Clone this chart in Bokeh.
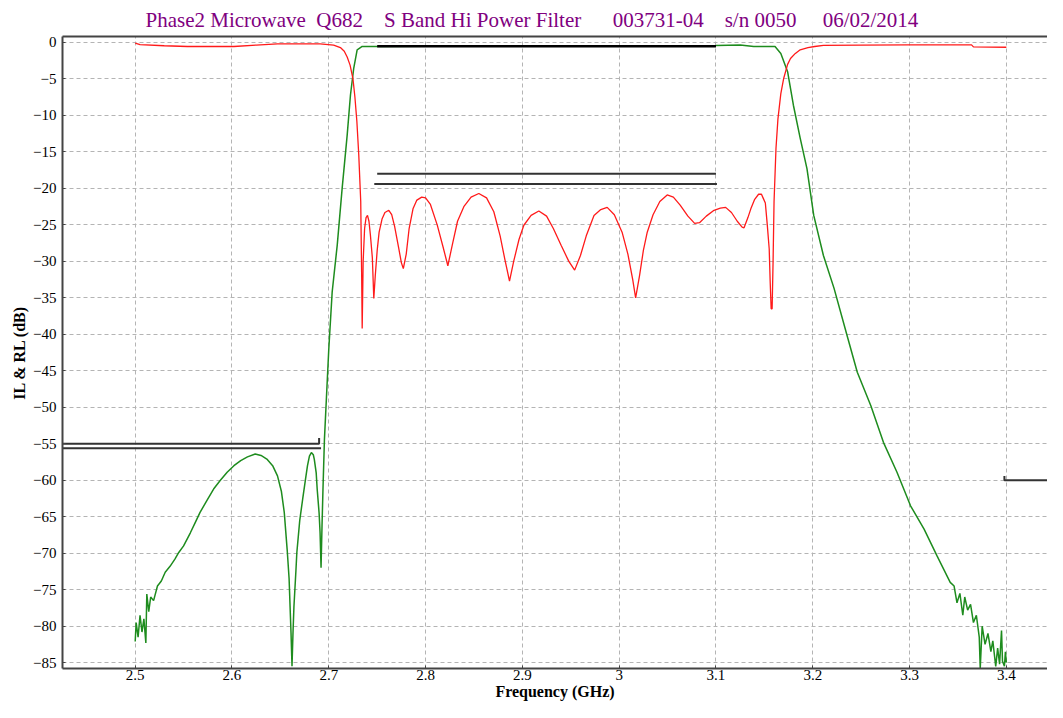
from bokeh.plotting import figure
from bokeh.models import Range1d, FixedTicker, LinearAxis, Title
from bokeh.embed import file_html
from bokeh.resources import INLINE

# ---------------- data ----------------
NB = "\u00a0"
title_parts = ["Phase2 Microwave", "Q682", "S Band Hi Power Filter", "003731-04", "s/n 0050", "06/02/2014"]
title_gaps = [2, 4, 6, 4, 5]

x_ticks = [2.5, 2.6, 2.7, 2.8, 2.9, 3.0, 3.1, 3.2, 3.3, 3.4]
x_tick_labels = ["2.5", "2.6", "2.7", "2.8", "2.9", "3", "3.1", "3.2", "3.3", "3.4"]
y_ticks = [0, -5, -10, -15, -20, -25, -30, -35, -40, -45, -50, -55, -60, -65, -70, -75, -80, -85]

# Return loss (red)
rl_f = [2.500, 2.505, 2.530, 2.554, 2.602, 2.625, 2.647, 2.691, 2.705, 2.712, 2.716, 2.719,
        2.722, 2.725, 2.727, 2.729, 2.731, 2.733, 2.734, 2.7345, 2.7355, 2.737, 2.7385, 2.740,
        2.7415, 2.743, 2.745, 2.7465, 2.748, 2.750, 2.752, 2.755, 2.758, 2.762, 2.765, 2.768,
        2.772, 2.775, 2.777, 2.780, 2.783, 2.787, 2.791, 2.796, 2.800, 2.805, 2.812, 2.818,
        2.823, 2.828, 2.833, 2.8395, 2.847, 2.855, 2.863, 2.8705, 2.877, 2.882, 2.8867, 2.891,
        2.8965, 2.9015, 2.909, 2.917, 2.925, 2.932, 2.940, 2.948, 2.954, 2.960, 2.966, 2.974,
        2.981, 2.9876, 2.995, 3.003, 3.009, 3.014, 3.017, 3.021, 3.025, 3.029, 3.035, 3.042,
        3.0496, 3.056, 3.063, 3.071, 3.078, 3.083, 3.090, 3.098, 3.1045, 3.110, 3.116, 3.122,
        3.127, 3.129, 3.133, 3.136, 3.140, 3.144, 3.147, 3.149, 3.151, 3.153, 3.155, 3.156,
        3.157, 3.158, 3.159, 3.160, 3.162, 3.164, 3.167, 3.170, 3.174, 3.177, 3.182, 3.187,
        3.195, 3.202, 3.211, 3.250, 3.298, 3.364, 3.366, 3.400]
rl_db = [-0.1, -0.3, -0.45, -0.55, -0.55, -0.35, -0.2, -0.2, -0.35, -0.7, -1.2, -2.0,
         -3.1, -5.0, -7.5, -10.8, -15.5, -21.8, -32.4, -39.2, -30.0, -25.5, -24.0, -23.7,
         -24.5, -26.4, -29.5, -35.1, -32.0, -28.5, -26.0, -24.2, -23.3, -23.0, -23.6, -25.2,
         -28.0, -30.2, -31.0, -29.0, -25.5, -22.8, -21.6, -21.2, -21.3, -22.2, -25.0, -28.0,
         -30.6, -27.5, -24.5, -22.5, -21.2, -20.7, -21.3, -23.2, -26.5, -29.8, -32.7, -30.0,
         -27.0, -25.05, -23.7, -23.1, -23.8, -25.5, -27.8, -30.0, -31.2, -29.2, -26.5, -23.7,
         -22.9, -22.6, -23.6, -26.0, -29.0, -32.5, -35.0, -32.0, -28.5, -26.0, -23.6, -21.8,
         -20.9, -21.2, -22.3, -23.8, -24.8, -24.7, -23.8, -23.0, -22.7, -22.6, -23.3, -24.5,
         -25.3, -25.4, -24.0, -22.8, -21.5, -20.8, -20.8, -21.4, -22.0, -25.0, -28.3, -32.8,
         -36.5, -36.5, -30.0, -21.8, -14.5, -10.5, -7.0, -4.9, -3.0, -2.2, -1.5, -1.0,
         -0.7, -0.55, -0.4, -0.35, -0.33, -0.33, -0.6, -0.65]

# Insertion loss (green)
il_f = [2.500, 2.501, 2.503, 2.505, 2.507, 2.509, 2.511, 2.512, 2.514, 2.516, 2.519, 2.523,
        2.527, 2.531, 2.536, 2.541, 2.545, 2.550, 2.557, 2.562, 2.567, 2.574, 2.581, 2.588,
        2.595, 2.602, 2.609, 2.616, 2.624, 2.630, 2.636, 2.642, 2.647, 2.651, 2.654, 2.657,
        2.659, 2.660, 2.661, 2.662, 2.663, 2.664, 2.666, 2.667, 2.670, 2.673, 2.676, 2.678,
        2.680, 2.682, 2.684, 2.685, 2.687, 2.688, 2.690, 2.691, 2.692, 2.693, 2.694, 2.6955,
        2.698, 2.700, 2.7035, 2.7087, 2.7138, 2.719, 2.7224, 2.7258, 2.7293, 2.7345, 2.753, 2.800,
        2.900, 3.000, 3.100, 3.125, 3.139, 3.161, 3.167, 3.174, 3.180, 3.187, 3.194, 3.201,
        3.211, 3.222, 3.2355, 3.246, 3.260, 3.273, 3.287, 3.301, 3.315, 3.3285, 3.342, 3.346,
        3.349, 3.352, 3.355, 3.357, 3.360, 3.363, 3.366, 3.369, 3.372, 3.373, 3.375, 3.378,
        3.381, 3.384, 3.386, 3.389, 3.391, 3.393, 3.395, 3.396, 3.398, 3.399, 3.400]
il_db = [-82.1, -79.5, -81.5, -78.5, -80.8, -79.0, -82.3, -75.6, -78.0, -76.0, -76.5, -74.5,
         -73.8, -72.6, -71.8, -70.8, -69.9, -69.0, -67.2, -65.8, -64.4, -62.8, -61.2, -60.0,
         -58.9, -58.0, -57.3, -56.8, -56.4, -56.6, -57.1, -58.0, -59.4, -61.5, -64.4, -69.5,
         -73.5, -77.3, -81.0, -85.5, -81.0, -77.3, -72.5, -69.9, -65.5, -62.6, -59.8, -58.0,
         -56.7, -56.2, -56.5, -57.1, -59.0, -61.2, -64.5, -67.2, -72.0, -66.3, -61.2, -54.4,
         -47.5, -42.0, -34.2, -27.8, -20.0, -12.7, -7.2, -3.5, -1.0, -0.55, -0.55, -0.5,
         -0.45, -0.45, -0.4, -0.33, -0.55, -0.55, -1.5, -4.0, -8.6, -13.1, -17.3, -23.7,
         -29.2, -33.7, -40.2, -45.2, -49.8, -54.8, -58.9, -63.5, -66.7, -70.4, -74.0, -74.5,
         -76.8, -75.5, -78.5, -76.0, -77.8, -77.0, -79.5, -78.5, -81.5, -85.8, -80.0, -82.5,
         -81.0, -83.5, -82.0, -85.5, -83.0, -85.2, -80.6, -84.8, -85.5, -83.5, -85.0]

# Specification limit lines (black)
spec_il_f = [2.75, 3.10]
spec_il_db = [-0.5, -0.5]
spec_rl1_f = [2.75, 3.10]
spec_rl1_db = [-18.0, -18.0]
spec_rl2_f = [2.747, 3.101]
spec_rl2_db = [-19.4, -19.4]
spec_lo1_f = [2.40, 2.690, 2.690]
spec_lo1_db = [-55.0, -55.0, -54.2]
spec_lo2_f = [2.40, 2.692]
spec_lo2_db = [-55.6, -55.6]
spec_hi_f = [3.398, 3.398, 3.50]
spec_hi_db = [-59.4, -60.0, -60.0]

title_text = ""
for i, part in enumerate(title_parts):
    title_text += part
    if i < len(title_gaps):
        title_text += NB * title_gaps[i]

# ---------------- figure ----------------
serif = "Liberation Serif"
axis_col = "#444444"

p = figure(width=1047, height=702, output_backend="svg", toolbar_location=None,
           x_range=Range1d(2.4249, 3.4425), y_range=Range1d(-85.8, 0.82),
           min_border_left=62, min_border_right=0, min_border_top=6, min_border_bottom=0,
           background_fill_color="white", border_fill_color="white")
p.outline_line_color = None

p.title = Title(text=title_text, align="left", offset=83, text_font=serif,
                text_font_size="21px", text_font_style="normal", text_color="#800080",
                standoff=10)

p.xaxis.ticker = FixedTicker(ticks=x_ticks)
p.xaxis.major_label_overrides = dict(zip(x_ticks, x_tick_labels))
p.yaxis.ticker = FixedTicker(ticks=y_ticks)
p.xgrid.ticker = FixedTicker(ticks=x_ticks + [3.5])
p.ygrid.ticker = FixedTicker(ticks=y_ticks)

for ax in (p.xaxis[0], p.yaxis[0]):
    ax.axis_line_color = axis_col
    ax.axis_line_width = 2
    ax.major_tick_line_color = axis_col
    ax.major_tick_in = 3
    ax.major_tick_out = 0
    ax.minor_tick_line_color = None
    ax.major_label_text_font = serif
    ax.major_label_text_font_size = "15px"
    ax.major_label_text_color = "black"
    ax.axis_label_text_font = serif
    ax.axis_label_text_font_size = "16px"
    ax.axis_label_text_font_style = "bold"
    ax.axis_label_text_color = "black"

p.xaxis.axis_label = "Frequency (GHz)"
p.yaxis.axis_label = "IL & RL (dB)"
p.xaxis.major_label_standoff = 1
p.xaxis.axis_label_standoff = 0
p.yaxis.major_label_standoff = 6
p.yaxis.axis_label_standoff = 2

top_axis = LinearAxis(ticker=FixedTicker(ticks=[]), axis_line_color=axis_col, axis_line_width=2,
                      major_tick_line_color=None, minor_tick_line_color=None,
                      major_label_text_font_size="0px")
p.add_layout(top_axis, "above")

for g in (p.xgrid[0], p.ygrid[0]):
    g.grid_line_color = "#b4b4b4"
    g.grid_line_dash = "4 3"
    g.grid_line_width = 1

spec_col = "#333333"
p.line(il_f, il_db, line_color="#1e8c1e", line_width=1.5)
p.line(rl_f, rl_db, line_color="#ff1a1a", line_width=1.3)
p.line(spec_il_f, spec_il_db, line_color="black", line_width=2.5)
p.line(spec_rl1_f, spec_rl1_db, line_color=spec_col, line_width=2)
p.line(spec_rl2_f, spec_rl2_db, line_color=spec_col, line_width=2)
p.line(spec_lo1_f, spec_lo1_db, line_color=spec_col, line_width=2)
p.line(spec_lo2_f, spec_lo2_db, line_color=spec_col, line_width=2)
p.line(spec_hi_f, spec_hi_db, line_color=spec_col, line_width=2)

open("out.html", "w").write(file_html(p, INLINE))
